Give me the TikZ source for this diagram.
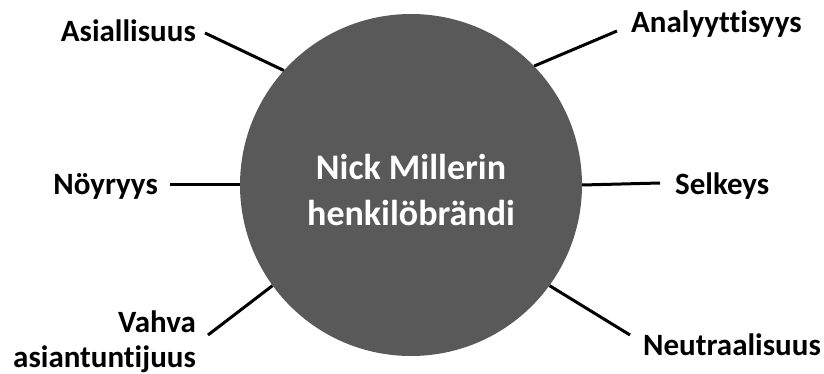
\documentclass[tikz,border=0pt]{standalone}
\usepackage{fontspec}
\setmainfont{Carlito}[Ligatures=NoCommon]
\usetikzlibrary{positioning}

\definecolor{hubgray}{HTML}{595959}

\tikzset{
    trait/.style={font=\fontsize{31}{35}\selectfont\bfseries, inner sep=0pt, align=right},
    spoke/.style={line width=3pt, black},
}

\begin{document}
\begin{tikzpicture}[x=1pt, y=-1pt]
    \useasboundingbox (0,0) rectangle (824,374);
    % central circle
    \node[circle, fill=hubgray, minimum size=342pt, inner sep=0pt] (hub) at (411,185) {};
    \node[font=\fontsize{36}{46}\selectfont\bfseries, text=white, align=center] (name) at (411,190) {Nick Millerin\\henkilöbrändi};

    % labels
    \node[trait, anchor=base east] (asia) at (196,42) {Asiallisuus};
    \node[trait, anchor=base west] (anal) at (631,33) {Analyyttisyys};
    \node[trait, anchor=base east] (noyr) at (158,194) {Nöyryys};
    \node[trait, anchor=base west] (selk) at (675,195) {Selkeys};
    \node[trait, anchor=base east] (vahv) at (196,367) {Vahva\\asiantuntijuus};
    \node[trait, anchor=base west] (neut) at (643,355) {Neutraalisuus};

    % outer ends of the spokes
    \coordinate (asia-e) at (205,33);
    \coordinate (anal-e) at (617,31);
    \coordinate (noyr-e) at (170,185);
    \coordinate (selk-e) at (660,183);
    \coordinate (vahv-e) at (208,335);
    \coordinate (neut-e) at (630,335);

    \draw[spoke] (asia-e) -- (hub.138);
    \draw[spoke] (anal-e) -- (hub.44);
    \draw[spoke] (noyr-e) -- (hub.180);
    \draw[spoke] (selk-e) -- (hub.0);
    \draw[spoke] (vahv-e) -- (hub.216);
    \draw[spoke] (neut-e) -- (hub.324);
\end{tikzpicture}
\end{document}
